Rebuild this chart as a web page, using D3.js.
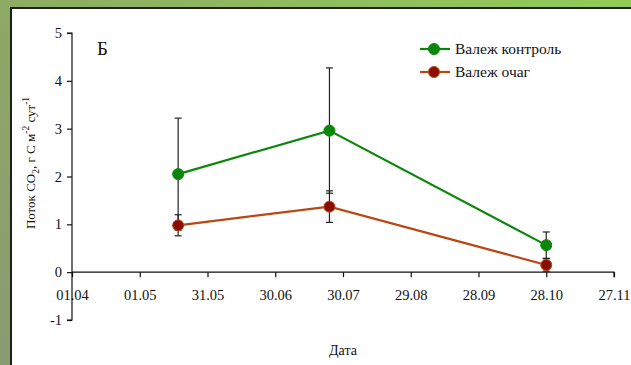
<!DOCTYPE html>
<html>
<head>
<meta charset="utf-8">
<script src="https://cdn.jsdelivr.net/npm/d3@7/dist/d3.min.js"></script>
<style>
  html, body { margin: 0; padding: 0; }
  svg { display: block; }
  text { font-family: "Liberation Serif", "Times New Roman", serif; fill: #111; }
</style>
</head>
<body>
<svg id="chart" width="631" height="365"></svg>
<script>
// Sampling dates (day.month)
const dates = ["18.05", "24.07", "28.10"];
// Series: CO2 flux, g C m-2 day-1, with error half-widths
const controlValues = [2.05, 2.96, 0.565];
const controlErrors = [1.17, 1.31, 0.275];
const focusValues = [0.98, 1.37, 0.15];
const focusErrors = [0.22, 0.33, 0.13];
const seriesNames = ["Валеж контроль", "Валеж очаг"];
// Axis ticks
const xTickLabels = ["01.04", "01.05", "31.05", "30.06", "30.07", "29.08", "28.09", "28.10", "27.11"];
const yTicks = [-1, 0, 1, 2, 3, 4, 5];

const year = 2000;
const parseDate = s => { const [d, m] = s.split(".").map(Number); return new Date(year, m - 1, d); };

const svg = d3.select("#chart");
const W = 631, H = 365;
const FONT = "Liberation Serif";

// Background with green gradient and white panel
const defs = svg.append("defs");
const grad = defs.append("linearGradient").attr("id", "bg")
  .attr("x1", "0%").attr("y1", "100%").attr("x2", "100%").attr("y2", "0%");
grad.append("stop").attr("offset", "0%").attr("stop-color", "#8a9a72");
grad.append("stop").attr("offset", "45%").attr("stop-color", "#8da866");
grad.append("stop").attr("offset", "100%").attr("stop-color", "#92cc58");
svg.append("rect").attr("width", W).attr("height", H).attr("fill", "url(#bg)");
svg.append("rect").attr("x", 10).attr("y", 7).attr("width", W - 10).attr("height", H - 7)
  .attr("fill", "#ffffff");
svg.append("path").attr("d", `M11,${H} V8 H${W}`).attr("fill", "none")
  .attr("stroke", "#1e1e1e").attr("stroke-width", 2);

// Scales
const x = d3.scaleTime()
  .domain([parseDate(xTickLabels[0]), parseDate(xTickLabels[xTickLabels.length - 1])])
  .range([72, 614]);
const y = d3.scaleLinear().domain([-1, 5]).range([320, 33]);

// Y axis
const yAxis = d3.axisLeft(y).tickValues(yTicks).tickSize(5).tickPadding(5).tickFormat(d => String(d));
const gy = svg.append("g").attr("transform", `translate(${x.range()[0]},0)`).call(yAxis);
gy.select(".domain").attr("stroke", "#111").attr("stroke-width", 1.2).attr("d", `M-5,${y(-1)}H0V${y(5)}H-5`);
gy.selectAll(".tick line").attr("stroke", "#111").attr("stroke-width", 1.2);
gy.selectAll(".tick text").attr("font-size", 14.5).attr("font-family", FONT).attr("fill", "#111");

// X axis at y = 0
const xTickDates = xTickLabels.map(parseDate);
const xAxis = d3.axisBottom(x).tickValues(xTickDates).tickSize(5).tickPadding(13)
  .tickFormat((d, i) => xTickLabels[i]);
const gx = svg.append("g").attr("transform", `translate(0,${y(0)})`).call(xAxis);
gx.select(".domain").attr("stroke", "#111").attr("stroke-width", 1.2).attr("d", `M${x.range()[0]},0H${x.range()[1]}V5`);
gx.selectAll(".tick line").attr("stroke", "#111").attr("stroke-width", 1.2);
gx.selectAll(".tick text").attr("font-size", 14.5).attr("font-family", FONT).attr("fill", "#111");

// Axis titles
svg.append("text").attr("x", 343).attr("y", 355).attr("text-anchor", "middle")
  .attr("font-size", 14).text("Дата");
const yt = svg.append("text").attr("transform", "translate(35,163) rotate(-90)")
  .attr("text-anchor", "middle").attr("font-size", 13);
yt.append("tspan").text("Поток CO");
yt.append("tspan").attr("font-size", 9.5).attr("dy", 4).text("2");
yt.append("tspan").attr("dy", -4).text(", г С м");
yt.append("tspan").attr("font-size", 9.5).attr("dy", -6).text("-2");
yt.append("tspan").attr("dy", 6).text(" сут");
yt.append("tspan").attr("font-size", 9.5).attr("dy", -6).text("-1");

// Panel letter
svg.append("text").attr("x", 97).attr("y", 55).attr("font-size", 19).text("Б");

const series = [
  { name: seriesNames[0], values: controlValues, errors: controlErrors, line: "#0a870a", fill: "#0a870a", stroke: "#0a870a" },
  { name: seriesNames[1], values: focusValues, errors: focusErrors, line: "#b84812", fill: "#8b0d00", stroke: "#b84812" }
];

const line = d3.line().x(d => x(d.date)).y(d => y(d.v));

// Error bars
series.forEach(s => {
  const pts = dates.map((dt, i) => ({ date: parseDate(dt), v: s.values[i], e: s.errors[i] }));
  const g = svg.append("g");
  pts.forEach(p => {
    const cx = x(p.date);
    g.append("line").attr("x1", cx).attr("x2", cx).attr("y1", y(p.v + p.e)).attr("y2", y(p.v - p.e))
      .attr("stroke", "#222").attr("stroke-width", 1.2);
    [p.v + p.e, p.v - p.e].forEach(v => {
      g.append("line").attr("x1", cx - 3.5).attr("x2", cx + 3.5).attr("y1", y(v)).attr("y2", y(v))
        .attr("stroke", "#222").attr("stroke-width", 1.2);
    });
  });
});

// Lines and markers
series.forEach(s => {
  const pts = dates.map((dt, i) => ({ date: parseDate(dt), v: s.values[i] }));
  svg.append("path").datum(pts).attr("d", line).attr("fill", "none")
    .attr("stroke", s.line).attr("stroke-width", 2.2);
  svg.append("g").selectAll("circle").data(pts).join("circle")
    .attr("cx", d => x(d.date)).attr("cy", d => y(d.v)).attr("r", 5.5)
    .attr("fill", s.fill).attr("stroke", s.stroke).attr("stroke-width", 1);
});

// Legend
const legend = svg.append("g");
series.forEach((s, i) => {
  const ly = 49 + i * 23;
  legend.append("line").attr("x1", 420).attr("x2", 450).attr("y1", ly).attr("y2", ly)
    .attr("stroke", s.line).attr("stroke-width", 2.2);
  legend.append("circle").attr("cx", 434).attr("cy", ly).attr("r", 5.5)
    .attr("fill", s.fill).attr("stroke", s.stroke).attr("stroke-width", 1);
  legend.append("text").attr("x", 455).attr("y", ly + 5).attr("font-size", 15.5).text(s.name);
});
</script>
</body>
</html>
